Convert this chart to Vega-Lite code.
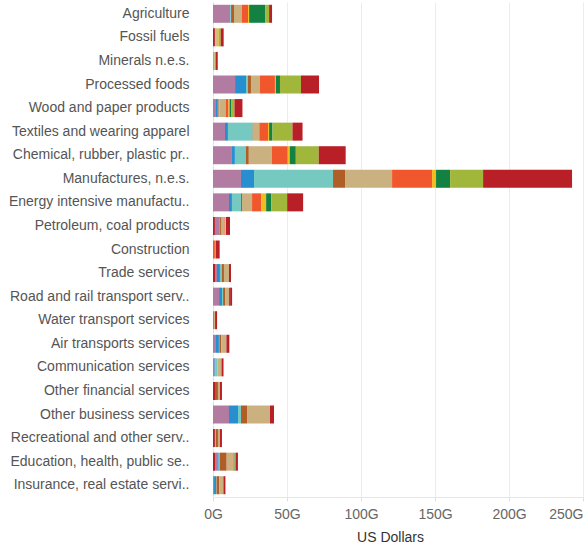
{
"$schema": "https://vega.github.io/schema/vega-lite/v6.json",
"width": 370, "height": 495,
"autosize": {"type": "none"},
"padding": {"left": 213, "top": 2, "right": 5, "bottom": 54},
"config": {"view": {"stroke": null}, "font": "Liberation Sans"},
"data": {"values": [
{"sector":"Agriculture","series":"S01","value":11.5},{"sector":"Agriculture","series":"S02","value":0.3},{"sector":"Agriculture","series":"S03","value":0.4},{"sector":"Agriculture","series":"S04","value":2.0},{"sector":"Agriculture","series":"S05","value":5.4},{"sector":"Agriculture","series":"S06","value":4.1},{"sector":"Agriculture","series":"S07","value":0.7},{"sector":"Agriculture","series":"S08","value":10.8},{"sector":"Agriculture","series":"S09","value":2.7},{"sector":"Agriculture","series":"S10","value":2.0},
{"sector":"Fossil fuels","series":"S00","value":1.3},{"sector":"Fossil fuels","series":"S01","value":0.3},{"sector":"Fossil fuels","series":"S05","value":1.0},{"sector":"Fossil fuels","series":"S07","value":1.2},{"sector":"Fossil fuels","series":"S09","value":1.4},{"sector":"Fossil fuels","series":"S10","value":2.0},
{"sector":"Minerals n.e.s.","series":"S01","value":0.5},{"sector":"Minerals n.e.s.","series":"S05","value":0.6},{"sector":"Minerals n.e.s.","series":"S09","value":0.7},{"sector":"Minerals n.e.s.","series":"S10","value":1.4},
{"sector":"Processed foods","series":"S01","value":14.9},{"sector":"Processed foods","series":"S02","value":7.4},{"sector":"Processed foods","series":"S03","value":1.35},{"sector":"Processed foods","series":"S04","value":2.0},{"sector":"Processed foods","series":"S05","value":6.1},{"sector":"Processed foods","series":"S06","value":10.1},{"sector":"Processed foods","series":"S07","value":0.7},{"sector":"Processed foods","series":"S08","value":2.7},{"sector":"Processed foods","series":"S09","value":14.2},{"sector":"Processed foods","series":"S10","value":12.2},
{"sector":"Wood and paper products","series":"S01","value":2.0},{"sector":"Wood and paper products","series":"S02","value":1.3},{"sector":"Wood and paper products","series":"S03","value":0.4},{"sector":"Wood and paper products","series":"S04","value":0.5},{"sector":"Wood and paper products","series":"S05","value":4.3},{"sector":"Wood and paper products","series":"S06","value":2.0},{"sector":"Wood and paper products","series":"S07","value":0.7},{"sector":"Wood and paper products","series":"S08","value":1.3},{"sector":"Wood and paper products","series":"S09","value":2.0},{"sector":"Wood and paper products","series":"S10","value":5.4},
{"sector":"Textiles and wearing apparel","series":"S01","value":8.1},{"sector":"Textiles and wearing apparel","series":"S02","value":2.0},{"sector":"Textiles and wearing apparel","series":"S03","value":16.7},{"sector":"Textiles and wearing apparel","series":"S04","value":0.2},{"sector":"Textiles and wearing apparel","series":"S05","value":4.3},{"sector":"Textiles and wearing apparel","series":"S06","value":5.9},{"sector":"Textiles and wearing apparel","series":"S07","value":0.7},{"sector":"Textiles and wearing apparel","series":"S08","value":2.3},{"sector":"Textiles and wearing apparel","series":"S09","value":13.5},{"sector":"Textiles and wearing apparel","series":"S10","value":6.8},
{"sector":"Chemical, rubber, plastic pr..","series":"S01","value":12.8},{"sector":"Chemical, rubber, plastic pr..","series":"S02","value":2.0},{"sector":"Chemical, rubber, plastic pr..","series":"S03","value":7.4},{"sector":"Chemical, rubber, plastic pr..","series":"S04","value":2.0},{"sector":"Chemical, rubber, plastic pr..","series":"S05","value":15.5},{"sector":"Chemical, rubber, plastic pr..","series":"S06","value":10.8},{"sector":"Chemical, rubber, plastic pr..","series":"S07","value":1.35},{"sector":"Chemical, rubber, plastic pr..","series":"S08","value":4.1},{"sector":"Chemical, rubber, plastic pr..","series":"S09","value":15.5},{"sector":"Chemical, rubber, plastic pr..","series":"S10","value":18.2},
{"sector":"Manufactures, n.e.s.","series":"S01","value":18.9},{"sector":"Manufactures, n.e.s.","series":"S02","value":8.8},{"sector":"Manufactures, n.e.s.","series":"S03","value":53.4},{"sector":"Manufactures, n.e.s.","series":"S04","value":8.1},{"sector":"Manufactures, n.e.s.","series":"S05","value":31.8},{"sector":"Manufactures, n.e.s.","series":"S06","value":27.0},{"sector":"Manufactures, n.e.s.","series":"S07","value":2.7},{"sector":"Manufactures, n.e.s.","series":"S08","value":9.5},{"sector":"Manufactures, n.e.s.","series":"S09","value":22.3},{"sector":"Manufactures, n.e.s.","series":"S10","value":60.1},
{"sector":"Energy intensive manufactu..","series":"S01","value":10.8},{"sector":"Energy intensive manufactu..","series":"S02","value":2.0},{"sector":"Energy intensive manufactu..","series":"S03","value":6.1},{"sector":"Energy intensive manufactu..","series":"S04","value":0.7},{"sector":"Energy intensive manufactu..","series":"S05","value":6.8},{"sector":"Energy intensive manufactu..","series":"S06","value":6.1},{"sector":"Energy intensive manufactu..","series":"S07","value":3.4},{"sector":"Energy intensive manufactu..","series":"S08","value":3.4},{"sector":"Energy intensive manufactu..","series":"S09","value":10.8},{"sector":"Energy intensive manufactu..","series":"S10","value":10.8},
{"sector":"Petroleum, coal products","series":"S00","value":1.3},{"sector":"Petroleum, coal products","series":"S01","value":3.2},{"sector":"Petroleum, coal products","series":"S02","value":0.3},{"sector":"Petroleum, coal products","series":"S04","value":1.0},{"sector":"Petroleum, coal products","series":"S05","value":2.0},{"sector":"Petroleum, coal products","series":"S06","value":0.5},{"sector":"Petroleum, coal products","series":"S07","value":0.5},{"sector":"Petroleum, coal products","series":"S10","value":2.7},
{"sector":"Construction","series":"S06","value":1.3},{"sector":"Construction","series":"S07","value":0.5},{"sector":"Construction","series":"S10","value":2.7},
{"sector":"Trade services","series":"S00","value":1.35},{"sector":"Trade services","series":"S01","value":1.35},{"sector":"Trade services","series":"S02","value":2.0},{"sector":"Trade services","series":"S03","value":1.35},{"sector":"Trade services","series":"S04","value":1.35},{"sector":"Trade services","series":"S05","value":3.4},{"sector":"Trade services","series":"S10","value":1.35},
{"sector":"Road and rail transport serv..","series":"S01","value":4.1},{"sector":"Road and rail transport serv..","series":"S02","value":2.0},{"sector":"Road and rail transport serv..","series":"S03","value":0.7},{"sector":"Road and rail transport serv..","series":"S04","value":1.35},{"sector":"Road and rail transport serv..","series":"S05","value":2.7},{"sector":"Road and rail transport serv..","series":"S08","value":0.7},{"sector":"Road and rail transport serv..","series":"S10","value":1.35},
{"sector":"Water transport services","series":"S01","value":0.7},{"sector":"Water transport services","series":"S05","value":0.7},{"sector":"Water transport services","series":"S10","value":1.35},
{"sector":"Air transports services","series":"S01","value":2.0},{"sector":"Air transports services","series":"S02","value":2.0},{"sector":"Air transports services","series":"S03","value":0.3},{"sector":"Air transports services","series":"S04","value":1.35},{"sector":"Air transports services","series":"S05","value":3.4},{"sector":"Air transports services","series":"S10","value":2.0},
{"sector":"Communication services","series":"S01","value":1.0},{"sector":"Communication services","series":"S02","value":0.7},{"sector":"Communication services","series":"S03","value":1.35},{"sector":"Communication services","series":"S05","value":2.7},{"sector":"Communication services","series":"S10","value":1.35},
{"sector":"Other financial services","series":"S00","value":1.35},{"sector":"Other financial services","series":"S04","value":2.0},{"sector":"Other financial services","series":"S05","value":1.35},{"sector":"Other financial services","series":"S10","value":1.35},
{"sector":"Other business services","series":"S01","value":10.8},{"sector":"Other business services","series":"S02","value":6.1},{"sector":"Other business services","series":"S03","value":2.0},{"sector":"Other business services","series":"S04","value":4.1},{"sector":"Other business services","series":"S05","value":15.5},{"sector":"Other business services","series":"S10","value":2.7},
{"sector":"Recreational and other serv..","series":"S00","value":1.3},{"sector":"Recreational and other serv..","series":"S03","value":0.7},{"sector":"Recreational and other serv..","series":"S04","value":1.35},{"sector":"Recreational and other serv..","series":"S05","value":1.35},{"sector":"Recreational and other serv..","series":"S10","value":1.35},
{"sector":"Education, health, public se..","series":"S00","value":1.35},{"sector":"Education, health, public se..","series":"S01","value":2.0},{"sector":"Education, health, public se..","series":"S02","value":0.5},{"sector":"Education, health, public se..","series":"S03","value":0.7},{"sector":"Education, health, public se..","series":"S04","value":4.7},{"sector":"Education, health, public se..","series":"S05","value":4.1},{"sector":"Education, health, public se..","series":"S06","value":0.5},{"sector":"Education, health, public se..","series":"S07","value":0.2},{"sector":"Education, health, public se..","series":"S08","value":0.5},{"sector":"Education, health, public se..","series":"S09","value":0.7},{"sector":"Education, health, public se..","series":"S10","value":1.6},
{"sector":"Insurance, real estate servi..","series":"S01","value":0.7},{"sector":"Insurance, real estate servi..","series":"S02","value":1.35},{"sector":"Insurance, real estate servi..","series":"S03","value":0.3},{"sector":"Insurance, real estate servi..","series":"S04","value":2.0},{"sector":"Insurance, real estate servi..","series":"S05","value":2.7},{"sector":"Insurance, real estate servi..","series":"S10","value":1.35}
]},
"mark": {"type": "bar"},
"encoding": {
  "y": {"field": "sector", "type": "nominal",
    "sort": ["Agriculture","Fossil fuels","Minerals n.e.s.","Processed foods","Wood and paper products","Textiles and wearing apparel","Chemical, rubber, plastic pr..","Manufactures, n.e.s.","Energy intensive manufactu..","Petroleum, coal products","Construction","Trade services","Road and rail transport serv..","Water transport services","Air transports services","Communication services","Other financial services","Other business services","Recreational and other serv..","Education, health, public se..","Insurance, real estate servi.."],
    "scale": {"paddingInner": 0.236, "paddingOuter": 0.118},
    "axis": {"title": null, "ticks": false, "labelPadding": 24, "labelFontSize": 14, "labelColor": "#555555", "labelLimit": 300, "domainColor": "#d9d9d9", "domainDash": [2, 2], "grid": false}},
  "x": {"field": "value", "type": "quantitative", "stack": "zero",
    "scale": {"domain": [0, 250], "nice": false},
    "axis": {"values": [0, 50, 100, 150, 200, 250], "labelExpr": "datum.value + 'G'", "title": "US Dollars",
      "labelFontSize": 14, "labelColor": "#666666", "labelPadding": 6, "tickSize": 4, "tickColor": "#e0e0e0",
      "domainColor": "#e6e6e6", "gridColor": "#ececec",
      "labelAlign": {"condition": {"test": "datum.value == 250", "value": "right"}, "value": "center"},
      "titleFontSize": 14, "titleFontWeight": "normal", "titleColor": "#333333", "titlePadding": 9, "titleX": 177}},
  "color": {"field": "series", "type": "nominal", "legend": null,
    "scale": {"domain": ["S00","S01","S02","S03","S04","S05","S06","S07","S08","S09","S10"],
      "range": ["#b91f27","#b27ba2","#278fd0","#76c9c1","#b05e27","#ccb180","#f1572c","#f2bb1e","#138142","#a0b73c","#b91f27"]}}
}
}
